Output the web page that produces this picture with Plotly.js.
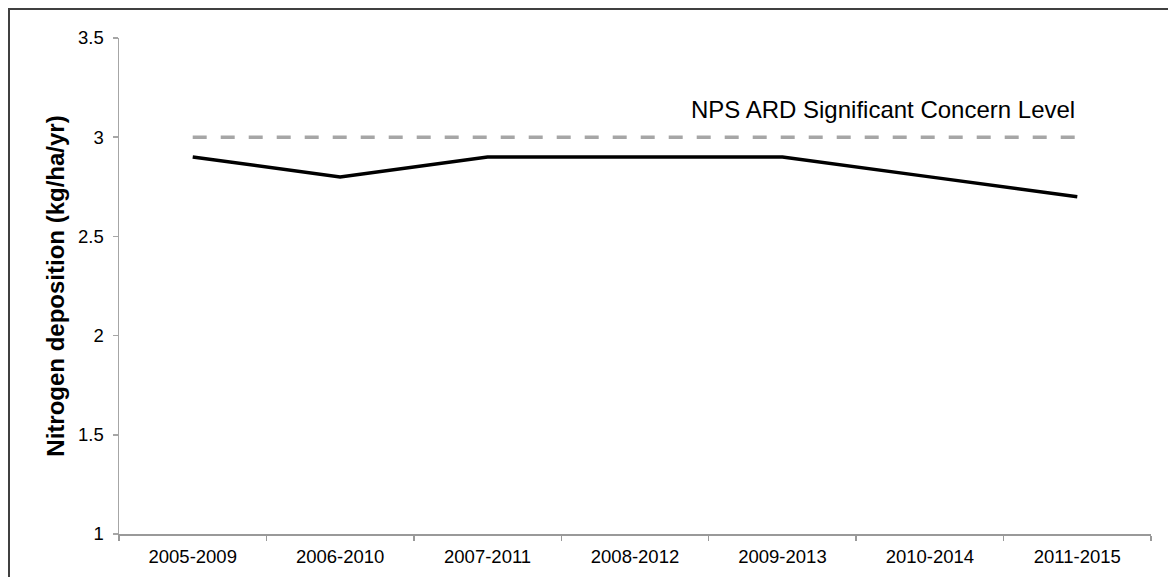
<!DOCTYPE html>
<html>
<head>
<meta charset="utf-8">
<script src="https://cdn.plot.ly/plotly-3.0.1.min.js"></script>
<style>
  html, body { margin: 0; padding: 0; background: #ffffff; }
  #wrap { position: relative; width: 1168px; height: 577px; overflow: hidden; }
  #frame { position: absolute; left: 8px; top: 8px; width: 1200px; height: 600px;
           border-left: 2px solid #404040; border-top: 2px solid #404040; box-sizing: border-box; }
  #chart { position: absolute; left: 0; top: 0; width: 1168px; height: 577px; }
</style>
</head>
<body>
<div id="wrap">
  <div id="frame"></div>
  <div id="chart"></div>
</div>
<script>
const periods = ["2005-2009", "2006-2010", "2007-2011", "2008-2012", "2009-2013", "2010-2014", "2011-2015"];
const deposition = [2.9, 2.8, 2.9, 2.9, 2.9, 2.8, 2.7];
const concernLevel = 3;
const concernLabel = "NPS ARD Significant Concern Level";
const yTitle = "Nitrogen deposition (kg/ha/yr)";

const font = "Liberation Sans, Arial, sans-serif";

const traces = [
  {
    x: periods,
    y: periods.map(() => concernLevel),
    type: "scatter",
    mode: "lines",
    line: { color: "#a6a6a6", width: 3.5, dash: "14px,14px" },
    hoverinfo: "skip",
    showlegend: false
  },
  {
    x: periods,
    y: deposition,
    type: "scatter",
    mode: "lines",
    line: { color: "#000000", width: 3.5 },
    showlegend: false
  }
];

const layout = {
  width: 1168,
  height: 577,
  margin: { l: 119, r: 17, t: 38, b: 42.5 },
  paper_bgcolor: "rgba(0,0,0,0)",
  plot_bgcolor: "rgba(0,0,0,0)",
  font: { family: font, color: "#000000", size: 18.5 },
  showlegend: false,
  xaxis: {
    type: "category",
    range: [-0.5, 6.5],
    showgrid: false,
    zeroline: false,
    showline: true,
    linecolor: "#999999",
    linewidth: 1.5,
    ticks: "outside",
    tickson: "boundaries",
    ticklen: 5,
    tickcolor: "#999999",
    tickwidth: 1.5,
    ticklabelstandoff: 5,
    tickfont: { family: font, size: 18.5, color: "#000000" },
    fixedrange: true
  },
  yaxis: {
    range: [1, 3.5],
    tickvals: [1, 1.5, 2, 2.5, 3, 3.5],
    ticktext: ["1", "1.5", "2", "2.5", "3", "3.5"],
    showgrid: false,
    zeroline: false,
    showline: true,
    linecolor: "#a6a6a6",
    linewidth: 1.5,
    ticks: "outside",
    ticklen: 5,
    tickcolor: "#a6a6a6",
    tickwidth: 1.5,
    ticklabelstandoff: 5,
    tickfont: { family: font, size: 18.5, color: "#000000" },
    title: { text: "<b>" + yTitle + "</b>", font: { family: font, size: 24, color: "#000000" }, standoff: 6 },
    fixedrange: true
  },
  annotations: [
    {
      x: periods[periods.length - 1],
      y: 3.14,
      xref: "x",
      yref: "y",
      text: concernLabel,
      showarrow: false,
      xanchor: "right",
      yanchor: "middle",
      font: { family: font, size: 24, color: "#000000" }
    }
  ]
};

Plotly.newPlot("chart", traces, layout, { displayModeBar: false, staticPlot: true });
</script>
</body>
</html>
